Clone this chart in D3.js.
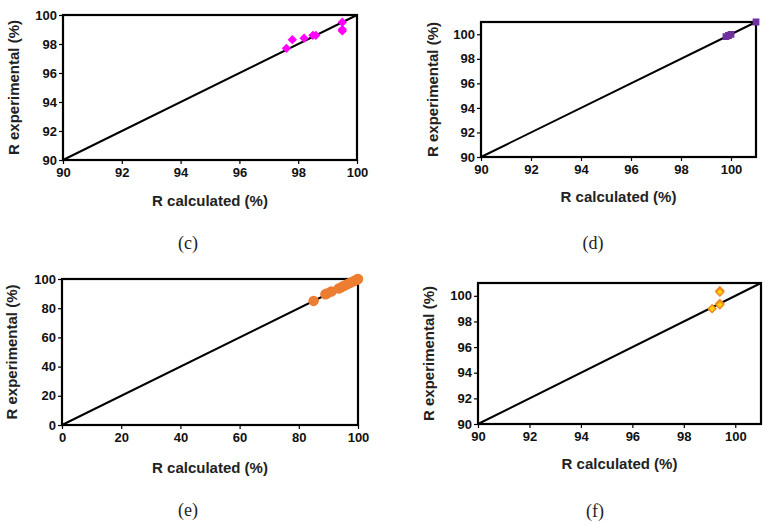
<!DOCTYPE html>
<html><head><meta charset="utf-8">
<script src="https://cdn.jsdelivr.net/npm/d3@7"></script>
<style>body{margin:0;background:#fff}svg{display:block}</style>
</head><body>
<svg id="chart" width="770" height="526"></svg>
<script>
// Panel (c)
const cCalc = [97.6, 97.8, 98.2, 98.5, 98.6, 99.5, 99.5, 99.5];
const cExp  = [97.7, 98.3, 98.4, 98.6, 98.6, 99.5, 99.0, 98.9];
// Panel (d)
const dCalc = [99.8, 99.9, 100.0, 101.0];
const dExp  = [99.8, 99.9, 100.0, 101.0];
// Panel (e)
const eCalc = [85, 89, 89.5, 91, 93.5, 94.5, 95.5, 96.5, 97.5, 98.5, 99.5, 100];
const eExp  = [85, 89.5, 90, 91.5, 93.5, 94.5, 95.5, 96.5, 97.5, 98.5, 99.5, 100];
// Panel (f)
const fCalc = [99.4, 99.4, 99.1, 99.4, 99.4];
const fExp  = [100.4, 100.3, 99.0, 99.4, 99.3];

const cTicks = [90, 92, 94, 96, 98, 100];
const eTicks = [0, 20, 40, 60, 80, 100];

const svg = d3.select("#chart");

const panels = [
  {label:"(c)", calc:cCalc, exp:cExp, dom:[90,100], ticks:cTicks, l:63, r:357, t:15, b:160,
   shape:d3.symbolSquare, rot:45, size:26, fill:"#FF00FF", stroke:"#FF00FF", xt:202, lab:[188,245], yx:15},
  {label:"(d)", calc:dCalc, exp:dExp, dom:[90,101], ticks:cTicks, l:481, r:756, t:22, b:157,
   shape:d3.symbolSquare, rot:0, size:28, fill:"#7030A0", stroke:"#7030A0", xt:198, lab:[593,245], yx:434},
  {label:"(e)", calc:eCalc, exp:eExp, dom:[0,100], ticks:eTicks, l:62, r:358, t:279, b:425,
   shape:d3.symbolCircle, rot:0, size:64, fill:"#ED7D31", stroke:"#ED7D31", xt:469, lab:[188,512], yx:13},
  {label:"(f)", calc:fCalc, exp:fExp, dom:[90,101], ticks:cTicks, l:478, r:761, t:283, b:424,
   shape:d3.symbolSquare, rot:45, size:30, fill:"#FFD200", stroke:"#F08A24", xt:465, lab:[595,513], yx:430}
];

panels.forEach(p => {
  const x = d3.scaleLinear().domain(p.dom).range([p.l, p.r]);
  const y = d3.scaleLinear().domain(p.dom).range([p.b, p.t]);
  const g = svg.append("g");

  const xa = g.append("g").attr("transform", `translate(0,${p.b})`)
    .call(d3.axisBottom(x).tickValues(p.ticks).tickSize(4).tickSizeOuter(0).tickPadding(4));
  const ya = g.append("g").attr("transform", `translate(${p.l},0)`)
    .call(d3.axisLeft(y).tickValues(p.ticks).tickSize(4).tickSizeOuter(0).tickPadding(2));
  [xa, ya].forEach(a => {
    a.select(".domain").remove();
    a.selectAll("line").attr("stroke", "#000").attr("stroke-width", 1.2);
    a.selectAll("text").attr("font-family", "Arial, 'Liberation Sans', sans-serif")
      .attr("font-weight", "bold").attr("font-size", 13).attr("fill", "#111");
  });

  g.append("rect").attr("x", p.l).attr("y", p.t).attr("width", p.r - p.l).attr("height", p.b - p.t)
    .attr("fill", "none").attr("stroke", "#000").attr("stroke-width", 2.2);

  g.append("line").attr("x1", x(p.dom[0])).attr("y1", y(p.dom[0]))
    .attr("x2", x(p.dom[1])).attr("y2", y(p.dom[1]))
    .attr("stroke", "#000").attr("stroke-width", 2);

  const sym = d3.symbol().type(p.shape).size(p.size);
  g.selectAll("path.pt").data(p.calc.map((c, i) => [c, p.exp[i]])).join("path")
    .attr("class", "pt")
    .attr("transform", d => `translate(${x(d[0])},${y(d[1])}) rotate(${p.rot})`)
    .attr("d", sym).attr("fill", p.fill).attr("stroke", p.stroke).attr("stroke-width", 1.5);

  g.append("text").attr("x", (p.l + p.r) / 2).attr("y", p.xt)
    .attr("text-anchor", "middle").attr("dominant-baseline", "middle")
    .attr("font-family", "Arial, 'Liberation Sans', sans-serif").attr("font-weight", "bold")
    .attr("font-size", 15).attr("fill", "#222").text("R calculated (%)");

  g.append("text").attr("transform", `translate(${p.yx},${(p.t + p.b) / 2}) rotate(-90)`)
    .attr("text-anchor", "middle").attr("dominant-baseline", "middle")
    .attr("font-family", "Arial, 'Liberation Sans', sans-serif").attr("font-weight", "bold")
    .attr("font-size", 15).attr("fill", "#222").text("R experimental (%)");

  g.append("text").attr("x", p.lab[0]).attr("y", p.lab[1])
    .attr("text-anchor", "middle").attr("dominant-baseline", "middle")
    .attr("font-family", "'Liberation Serif', 'Times New Roman', serif")
    .attr("font-size", 18).attr("fill", "#222").text(p.label);
});
</script>
</body></html>
